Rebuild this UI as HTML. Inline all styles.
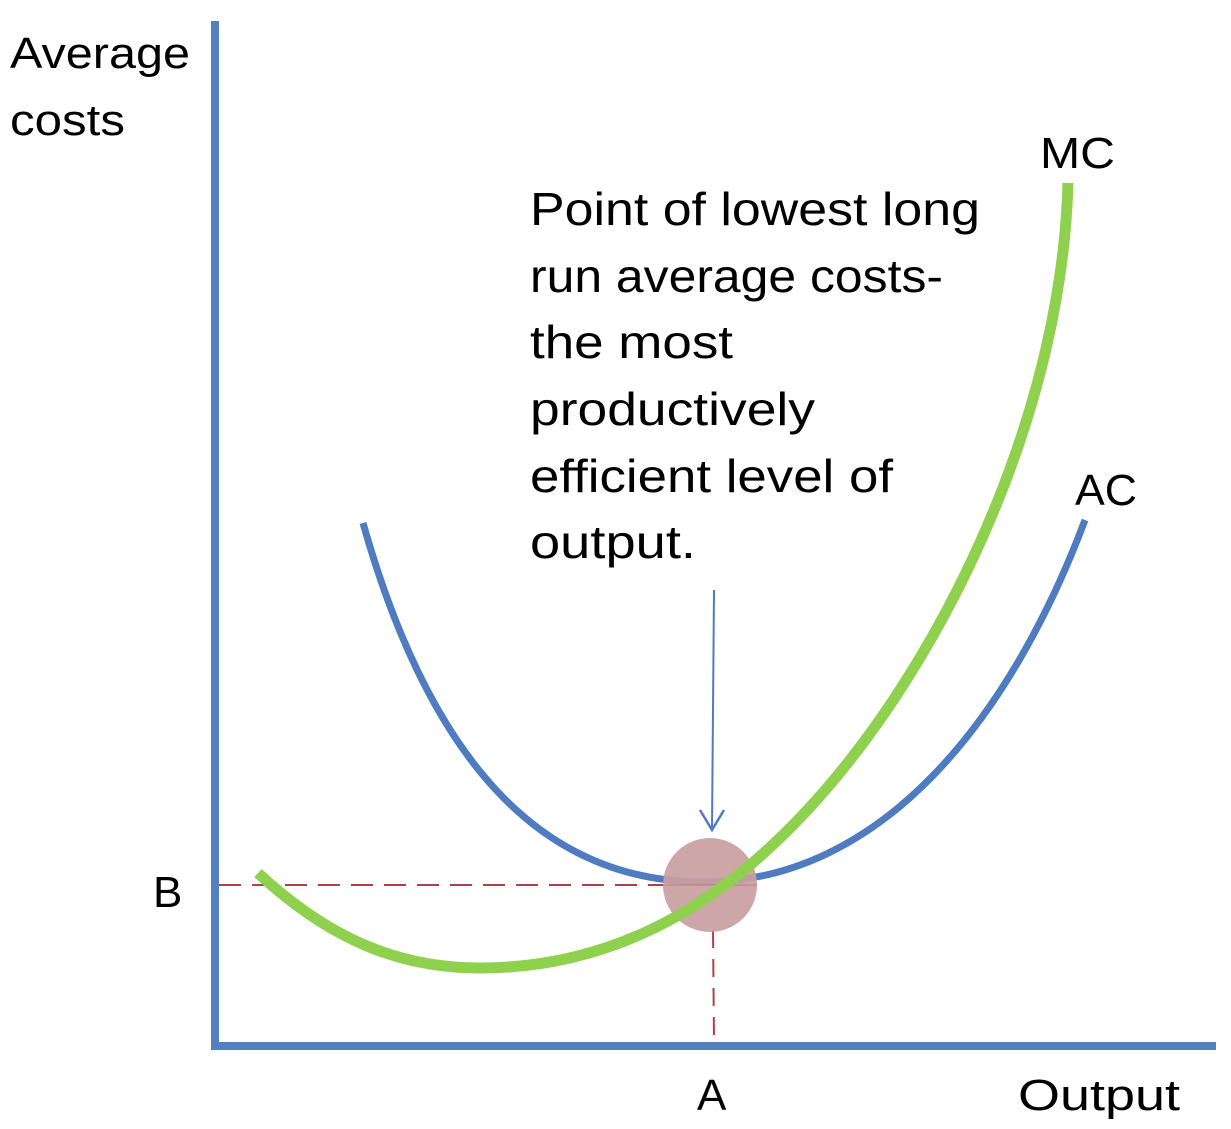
<!DOCTYPE html>
<html><head><meta charset="utf-8"><style>
html,body{margin:0;padding:0;background:#fff;}
svg{display:block;}
text{font-family:"Liberation Sans",sans-serif;fill:#000;}
</style></head><body>
<svg width="1231" height="1129" viewBox="0 0 1231 1129" xmlns="http://www.w3.org/2000/svg">
<rect width="1231" height="1129" fill="#fff"/>
<!-- axes -->
<rect x="211" y="21" width="8" height="1027" fill="#5580c0"/>
<rect x="211" y="1042" width="1005" height="8" fill="#5580c0"/>
<!-- dashed guides -->
<line x1="219" y1="885" x2="665" y2="885" stroke="#b04048" stroke-width="2" stroke-dasharray="22,11"/>
<line x1="713" y1="930" x2="714" y2="1040" stroke="#b04048" stroke-width="2" stroke-dasharray="18,11"/>
<!-- AC -->
<path d="M363,523 C430,760 540,880 700,882 C880,884 1010,720 1085,520" fill="none" stroke="#4f7cc0" stroke-width="7"/>
<!-- circle -->
<circle cx="710" cy="885" r="47" fill="#c9a0a0" opacity="0.92"/>
<line x1="665" y1="885" x2="757" y2="885" stroke="#b04048" stroke-width="1" opacity="0.4"/>
<!-- MC -->
<path d="M258,873 C330,940 400,968 480,968 C620,968 740,900 850,760 C960,620 1062,400 1068,183" fill="none" stroke="#8fd14f" stroke-width="11"/>
<!-- arrow -->
<line x1="714" y1="590" x2="712" y2="830" stroke="#4f7cc0" stroke-width="2"/>
<polyline points="700,810 712,830 724,810" fill="none" stroke="#4f7cc0" stroke-width="2.5"/>
<!-- labels -->
<text x="10" y="68" font-size="44" textLength="180" lengthAdjust="spacingAndGlyphs">Average</text>
<text x="10" y="135" font-size="44" textLength="115" lengthAdjust="spacingAndGlyphs">costs</text>
<text x="1040" y="168" font-size="44" textLength="75" lengthAdjust="spacingAndGlyphs">MC</text>
<text x="1075" y="505" font-size="44" textLength="62" lengthAdjust="spacingAndGlyphs">AC</text>
<text x="153" y="907" font-size="44">B</text>
<text x="697" y="1110" font-size="44">A</text>
<text x="1018" y="1110" font-size="44" textLength="162" lengthAdjust="spacingAndGlyphs">Output</text>
<g font-size="46">
<text x="530" y="225" textLength="450" lengthAdjust="spacingAndGlyphs">Point of lowest long</text>
<text x="530" y="292" textLength="413" lengthAdjust="spacingAndGlyphs">run average costs-</text>
<text x="530" y="358" textLength="203" lengthAdjust="spacingAndGlyphs">the most</text>
<text x="530" y="425" textLength="285" lengthAdjust="spacingAndGlyphs">productively</text>
<text x="530" y="492" textLength="363" lengthAdjust="spacingAndGlyphs">efficient level of</text>
<text x="530" y="558" textLength="166" lengthAdjust="spacingAndGlyphs">output.</text>
</g>
</svg>
</body></html>
